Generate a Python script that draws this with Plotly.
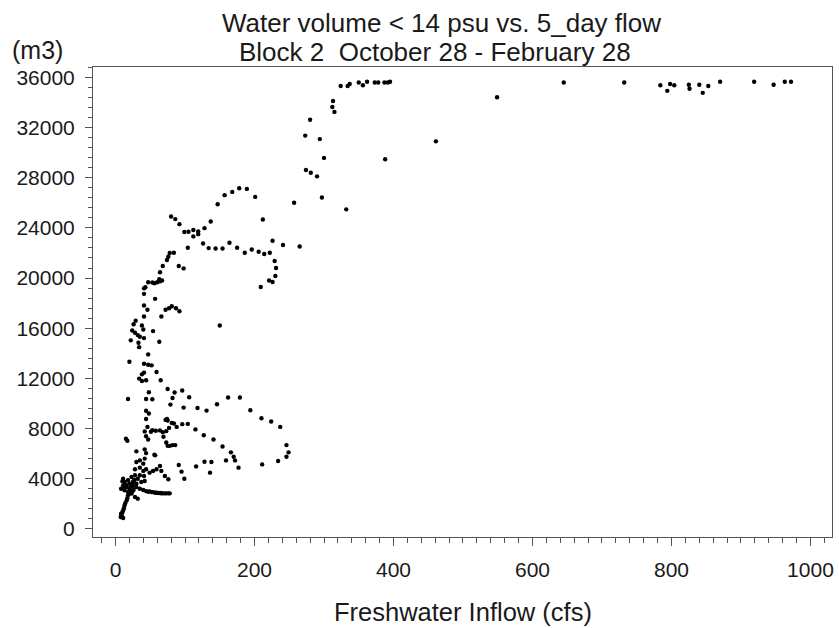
import plotly.graph_objects as go

# 5-day freshwater inflow (cfs) and water volume < 14 psu (m3)
flow_cfs = [
    # upper plateau and scattered high points
    324, 334, 337, 350, 356, 362, 373, 378, 387, 392, 395,
    313, 312, 315, 280, 273, 294, 300, 274, 281, 290, 297, 332,
    388, 461, 549, 645, 732, 784, 794, 798, 804, 825, 826, 840, 845, 853, 870, 919, 947, 963, 972,
    # upper-middle band
    178, 189, 168, 157, 147, 201, 257, 212, 137, 128,
    80, 86, 92, 99, 105, 112, 112, 119, 119,
    104, 126, 134, 144, 154, 164, 175, 186, 196, 206, 214, 222, 226, 241, 265,
    229, 231, 230, 221, 226, 209,
    78, 84, 76, 74, 68, 64, 63,
    67, 64, 60, 56, 53, 47, 43, 41, 41,
    91, 98, 57, 41, 46, 41, 66,
    72, 77, 81, 87, 92, 150,
    29, 26, 24, 28, 38, 40, 32, 35, 41, 22, 54, 63, 33, 34, 47,
    # lower-middle band
    20, 41, 47, 52, 41, 38, 59, 34, 38, 44, 65, 48, 18, 44, 53,
    75, 85, 96, 82, 106, 79, 98, 118, 131, 146, 162, 179, 194, 210, 224, 237, 246, 249, 246, 234,
    211, 177, 172, 170, 166, 159, 154, 141, 127, 115, 104, 96, 88, 84, 81, 74, 72, 75, 77, 73,
    68, 64, 58, 53, 46, 51, 42, 44, 47, 15, 17,
    69, 73, 75, 78, 82, 86, 30, 42, 44, 56,
    91, 95, 99, 116, 128, 138, 136,
    44, 48, 44,
    # low-flow cluster
    30, 35, 40, 42, 57,
    28, 35, 40, 44, 49, 54, 59, 64, 66, 71, 76, 42, 41,
    25, 30, 35, 40, 44, 49, 54, 59, 64, 68, 73, 78,
    23, 28, 32,
    18, 16, 13, 11, 8, 7.5, 11,
    11, 13, 11, 16, 18, 20, 23, 25, 28, 32, 30, 37, 35, 20, 13, 18, 8,
    9, 10, 12, 14, 17, 19, 21, 22, 24, 27, 15, 12, 10, 26, 24,
    47, 52, 57, 61, 66, 71, 76,
]

volume_m3 = [
    35310, 35310, 35480, 35590, 35370, 35650, 35590, 35590, 35590, 35590, 35650,
    34120, 33640, 33250, 32620, 31360, 31080, 29580, 28620, 28400, 28110, 26420, 25480,
    29470, 30900, 34420, 35590, 35590, 35370, 34930, 35480, 35370, 35420, 35100, 35420, 34770, 35310, 35650, 35650, 35420, 35650, 35650,
    27165, 27110, 26870, 26610, 25890, 26470, 26000, 24670, 24510, 23980,
    24910, 24700, 24300, 23670, 23690, 23830, 23320, 23710, 23500,
    22420, 22760, 22390, 22360, 22360, 22820, 22420, 22020, 22280, 22100, 21920, 22020, 22980, 22630, 22520,
    21360, 20800, 20170, 19800, 19690, 19290,
    22000, 22020, 21700, 21440, 20960, 20460, 19900,
    19800, 19740, 19660, 19580, 19640, 19660, 19270, 19180, 18740,
    20960, 20770, 18340, 17810, 17470, 16930, 16930,
    17470, 17590, 17750, 17590, 17350, 16220,
    16590, 16320, 15820, 15640, 16220, 15900, 15450, 15320, 15210, 15030, 15770, 14920, 14840, 14490, 13910,
    13330, 13170, 13090, 13040, 12460, 12320, 12510, 11980, 11790, 11850, 11850, 10890, 10360, 10360, 10340,
    11150, 10870, 11030, 10440, 10490, 9910, 9670, 9640, 9430, 9940, 10470, 10470, 9460, 8820, 8560, 8130, 6680, 6100, 5750, 5410,
    5140, 4880, 5460, 5750, 6100, 5460, 6570, 7130, 7470, 7930, 8370, 8350, 8130, 8400, 8450, 8770, 8690, 8640, 8050, 7790,
    7710, 7850, 7820, 7870, 8130, 7740, 7770, 7390, 7130, 7180, 7020,
    7340, 6890, 6620, 6620, 6680, 6680, 6180, 6340, 6040, 5910,
    5090, 4560, 4000, 4980, 5350, 5330, 4480,
    9420, 9200, 8760,
    5330, 5460, 5200, 5600, 5860,
    4750, 4880, 4620, 4750, 4480, 4620, 4750, 5010, 4620, 4220, 3950, 3820, 4210,
    3410, 3330, 3200, 3100, 3010, 2990, 2930, 2890, 2860, 2830, 2830, 2830,
    2810, 2540, 2410,
    2670, 2270, 1870, 1475, 1210, 940, 860,
    4000, 3730, 3470, 3330, 3870, 3600, 4130, 3730, 4270, 4000, 3600, 3730, 4270, 3200, 3070, 2930, 3200,
    1100, 1350, 1650, 2050, 2450, 2800, 3050, 3350, 3550, 3900, 3500, 3350, 3800, 3100, 2950,
    2960, 2930, 2880, 2860, 2840, 2830, 2830,
]

x_ticks = [0, 200, 400, 600, 800, 1000]
y_ticks = [0, 4000, 8000, 12000, 16000, 20000, 24000, 28000, 32000, 36000]

title_line1 = "Water volume < 14 psu vs. 5_day flow"
title_line2 = "Block 2  October 28 - February 28"
x_title = "Freshwater Inflow (cfs)"
y_unit = "(m3)"

FONT = "Liberation Sans, Arial, Helvetica, sans-serif"
TXT = "#1a1a1a"
AX = "#555555"

fig = go.Figure()
fig.add_trace(go.Scatter(
    x=flow_cfs, y=volume_m3, mode="markers",
    marker=dict(color="black", size=4.4, line=dict(width=0)),
    hoverinfo="x+y", showlegend=False,
))

fig.update_layout(
    width=839, height=628,
    margin=dict(l=93, r=7, t=67, b=91, autoexpand=False),
    paper_bgcolor="white", plot_bgcolor="white",
    font=dict(family=FONT, color=TXT),
    xaxis=dict(
        range=[-32.4, 1031], tickvals=x_ticks, ticktext=[str(v) for v in x_ticks],
        showgrid=False, zeroline=False, showline=True, mirror=True, automargin=False,
        linecolor=AX, linewidth=1, ticks="outside", ticklen=8, tickwidth=1, tickcolor=AX,
        tickfont=dict(size=21, color=TXT, family=FONT),
        minor=dict(dtick=20, tick0=0, ticks="outside", ticklen=5, tickcolor=AX, tickwidth=1, showgrid=False),
        ticklabelstandoff=6,
    ),
    yaxis=dict(
        range=[-650, 36830], tickvals=y_ticks, ticktext=[str(v) for v in y_ticks],
        showgrid=False, zeroline=False, showline=True, mirror=True, automargin=False,
        linecolor=AX, linewidth=1, ticks="outside", ticklen=7, tickwidth=1, tickcolor=AX,
        tickfont=dict(size=21, color=TXT, family=FONT),
        minor=dict(dtick=800, tick0=0, ticks="outside", ticklen=4, tickcolor=AX, tickwidth=1, showgrid=False),
        ticklabelstandoff=6,
    ),
    annotations=[
        dict(text=title_line1, xref="paper", yref="paper", x=0.4719, y=1.0937,
             xanchor="center", yanchor="middle", showarrow=False, font=dict(size=26, color=TXT, family=FONT)),
        dict(text=title_line2, xref="paper", yref="paper", x=0.4624, y=1.0315,
             xanchor="center", yanchor="middle", showarrow=False, font=dict(size=26, color=TXT, family=FONT)),
        dict(text=y_unit, xref="paper", yref="paper", x=-0.1123, y=1.0366,
             xanchor="left", yanchor="middle", showarrow=False, font=dict(size=25, color=TXT, family=FONT)),
        dict(text=x_title, xref="paper", yref="paper", x=0.5, y=-0.1602,
             xanchor="center", yanchor="middle", showarrow=False, font=dict(size=25.5, color=TXT, family=FONT)),
    ],
)

fig.write_html(
    "out.html",
    config={"displayModeBar": False},
    post_script="document.body.style.margin='0';document.body.style.padding='0';",
)
